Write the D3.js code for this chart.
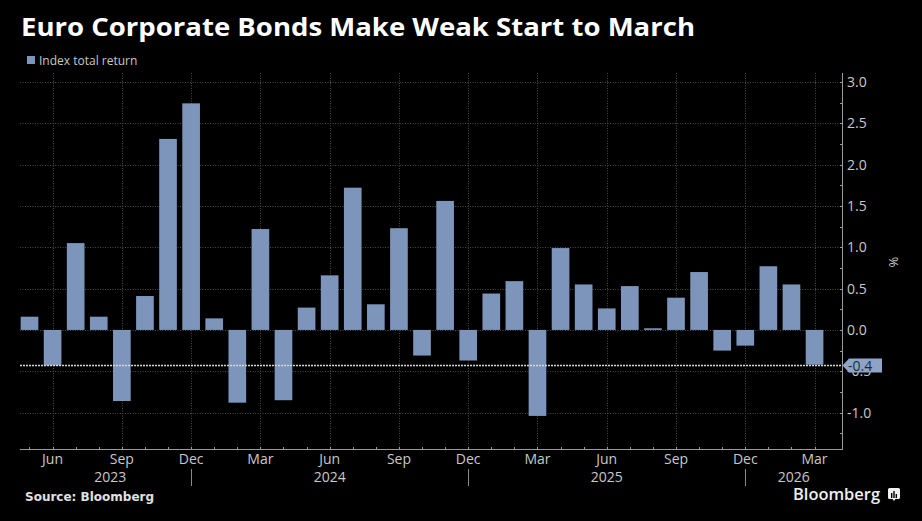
<!DOCTYPE html>
<html>
<head>
<meta charset="utf-8">
<script src="https://cdn.jsdelivr.net/npm/d3@7"></script>
<style>
  html, body { margin: 0; padding: 0; background: #000; }
  svg { display: block; }
</style>
</head>
<body>
<div id="chart"></div>
<script>
var width = 922;
var height = 521;

// monthly index total return, %
const months = ["2023-05","2023-06","2023-07","2023-08","2023-09","2023-10","2023-11","2023-12",
                "2024-01","2024-02","2024-03","2024-04","2024-05","2024-06","2024-07","2024-08",
                "2024-09","2024-10","2024-11","2024-12","2025-01","2025-02","2025-03","2025-04",
                "2025-05","2025-06","2025-07","2025-08","2025-09","2025-10","2025-11","2025-12",
                "2026-01","2026-02","2026-03"];
const returns = [0.16, -0.43, 1.05, 0.16, -0.86, 0.41, 2.31, 2.74,
                 0.14, -0.88, 1.22, -0.85, 0.27, 0.66, 1.72, 0.31,
                 1.23, -0.31, 1.56, -0.37, 0.44, 0.59, -1.04, 0.99,
                 0.55, 0.26, 0.53, 0.02, 0.39, 0.70, -0.25, -0.19,
                 0.77, 0.55, -0.42];
const tickMonths = ["2023-06","2023-09","2023-12","2024-03","2024-06","2024-09","2024-12",
                    "2025-03","2025-06","2025-09","2025-12","2026-03"];
const yTicks = [-1.0, -0.5, 0.0, 0.5, 1.0, 1.5, 2.0, 2.5, 3.0];
const years = ["2023","2024","2025","2026"];
const yearBreaks = ["2023-12","2024-12","2025-12"];
const lastLabel = "-0.4";

const parseMonth = d3.timeParse("%Y-%m");
const fmtMonth = d3.timeFormat("%b");

const plotLeft = 20, plotRight = 842, plotTop = 73, plotBottom = 449;
const barColor = "#7d95bb";

var svg = d3.select("#chart").append("svg")
    .attr("width", width).attr("height", height)
    .style("background", "#000");

let x = d3.scaleBand().domain(months).range([17.95, 826.1]).paddingInner(0.235).paddingOuter(0.1175);
let y = d3.scaleLinear().domain([-1.44, 3.107]).range([plotBottom, plotTop]);
let cx = m => x(m) + x.bandwidth() / 2;

// grid
let grid = svg.append("g");
grid.selectAll(".hgrid").data(yTicks)
    .join("line").attr("class", "hgrid")
    .attr("x1", plotLeft).attr("x2", plotRight)
    .attr("y1", d => Math.round(y(d)) + 0.5).attr("y2", d => Math.round(y(d)) + 0.5)
    .attr("stroke", "#4a4a4a").attr("stroke-dasharray", "1,1.5");
grid.selectAll(".vgrid").data(tickMonths)
    .join("line").attr("class", "vgrid")
    .attr("x1", d => Math.round(cx(d)) + 0.5).attr("x2", d => Math.round(cx(d)) + 0.5)
    .attr("y1", plotTop).attr("y2", plotBottom)
    .attr("stroke", "#4a4a4a").attr("stroke-dasharray", "1,1.5");

// bars
svg.append("g").selectAll("rect").data(months)
    .join("rect")
    .attr("x", d => x(d))
    .attr("width", x.bandwidth())
    .attr("y", (d, i) => y(Math.max(0, returns[i])))
    .attr("height", (d, i) => Math.max(1, Math.abs(y(returns[i]) - y(0))))
    .attr("fill", barColor);

// last value reference line
let lastY = Math.round(y(returns[returns.length - 1])) + 0.5;
svg.append("line")
    .attr("x1", plotLeft).attr("x2", plotRight)
    .attr("y1", lastY).attr("y2", lastY)
    .attr("stroke", "#d8d8d8").attr("stroke-width", 1.3).attr("stroke-dasharray", "2,1");

// y axis on the right
let yAxis = svg.append("g").attr("transform", `translate(${plotRight},0)`);
yAxis.append("line").attr("x1", 0.5).attr("x2", 0.5).attr("y1", plotTop).attr("y2", plotBottom)
    .attr("stroke", "#9a9a9a");
yAxis.selectAll(".minor").data(d3.range(-1.25, 3.01, 0.25))
    .join("line").attr("class", "minor")
    .attr("x1", -2).attr("x2", 0.5)
    .attr("y1", d => Math.round(y(d)) + 0.5).attr("y2", d => Math.round(y(d)) + 0.5)
    .attr("stroke", "#9a9a9a");
yAxis.selectAll(".ylab").data(yTicks)
    .join("text").attr("class", "ylab")
    .attr("x", 5).attr("y", d => y(d))
    .attr("dy", "0.36em")
    .attr("fill", "#c8c8c8")
    .style("font", "14px 'Open Sans', sans-serif")
    .text(d => d3.format(".1f")(d).replace("−", "-"));
svg.append("text")
    .attr("transform", "translate(889,262) rotate(90)")
    .attr("text-anchor", "middle")
    .attr("fill", "#c8c8c8")
    .style("font", "13px 'Open Sans', sans-serif")
    .text("%");

// last value label box
let lbl = svg.append("g").attr("transform", `translate(${plotRight},${lastY})`);
lbl.append("path")
    .attr("d", "M0.5,0 L7,-7 L40,-7 L40,7 L7,7 Z")
    .attr("fill", "#8ea3c6");
lbl.append("text")
    .attr("x", 6).attr("y", 0).attr("dy", "0.36em")
    .attr("fill", "#1b2a47")
    .style("font", "14px 'Open Sans', sans-serif")
    .text(lastLabel);

// x axis
let xAxis = svg.append("g");
xAxis.append("line").attr("x1", plotLeft).attr("x2", plotRight + 1)
    .attr("y1", plotBottom + 0.5).attr("y2", plotBottom + 0.5).attr("stroke", "#9a9a9a");
xAxis.selectAll(".xtick").data(months)
    .join("line").attr("class", "xtick")
    .attr("x1", d => Math.round(cx(d)) + 0.5).attr("x2", d => Math.round(cx(d)) + 0.5)
    .attr("y1", plotBottom - 2).attr("y2", plotBottom + 1)
    .attr("stroke", "#9a9a9a");
xAxis.selectAll(".xlab").data(tickMonths)
    .join("text").attr("class", "xlab")
    .attr("x", d => cx(d)).attr("y", 464)
    .attr("text-anchor", "middle")
    .attr("fill", "#c8c8c8")
    .style("font", "14px 'Open Sans', sans-serif")
    .text(d => fmtMonth(parseMonth(d)));
xAxis.selectAll(".ybreak").data(yearBreaks)
    .join("line").attr("class", "ybreak")
    .attr("x1", d => Math.round(cx(d)) + 0.5).attr("x2", d => Math.round(cx(d)) + 0.5)
    .attr("y1", 469).attr("y2", 486)
    .attr("stroke", "#8a8a8a");
let bounds = [cx(months[0])].concat(yearBreaks.map(cx), [plotRight]);
xAxis.selectAll(".yearlab").data(years)
    .join("text").attr("class", "yearlab")
    .attr("x", (d, i) => (bounds[i] + bounds[i + 1]) / 2).attr("y", 482)
    .attr("text-anchor", "middle")
    .attr("fill", "#c8c8c8")
    .style("font", "14px 'Open Sans', sans-serif")
    .text(d => d);

// title + legend
svg.append("text")
    .attr("x", 21).attr("y", 36)
    .attr("fill", "#fff")
    .attr("textLength", 674).attr("lengthAdjust", "spacingAndGlyphs")
    .style("font", "bold 25px 'Open Sans', sans-serif")
    .text("Euro Corporate Bonds Make Weak Start to March");
svg.append("rect").attr("x", 27).attr("y", 56).attr("width", 8).attr("height", 8).attr("fill", barColor);
svg.append("text")
    .attr("x", 39).attr("y", 65)
    .attr("fill", "#c8c8c8")
    .style("font", "12px 'Open Sans', sans-serif")
    .text("Index total return");

// footer
svg.append("text")
    .attr("x", 25).attr("y", 501)
    .attr("fill", "#e0e0e0")
    .style("font", "bold 12px 'DejaVu Sans', sans-serif")
    .text("Source: Bloomberg");
svg.append("text")
    .attr("x", 793).attr("y", 500)
    .attr("fill", "#f0f0f0")
    .attr("textLength", 87).attr("lengthAdjust", "spacingAndGlyphs")
    .style("font", "600 15.5px 'Open Sans', sans-serif")
    .text("Bloomberg");
let logo = svg.append("g").attr("transform", "translate(888,488)");
logo.append("path").attr("d", "M1.5,0 H10.5 Q12,0 12,1.5 V9.5 Q12,11 10.5,11 H7.5 L6,13 L4.5,11 H1.5 Q0,11 0,9.5 V1.5 Q0,0 1.5,0 Z")
    .attr("fill", "#f0f0f0");
logo.selectAll("rect").data([[3, 5, 5], [5.3, 3, 7], [7.6, 6, 4]])
    .join("rect")
    .attr("x", d => d[0]).attr("y", d => d[1]).attr("width", 1.4).attr("height", d => d[2])
    .attr("fill", "#000");
</script>
</body>
</html>
